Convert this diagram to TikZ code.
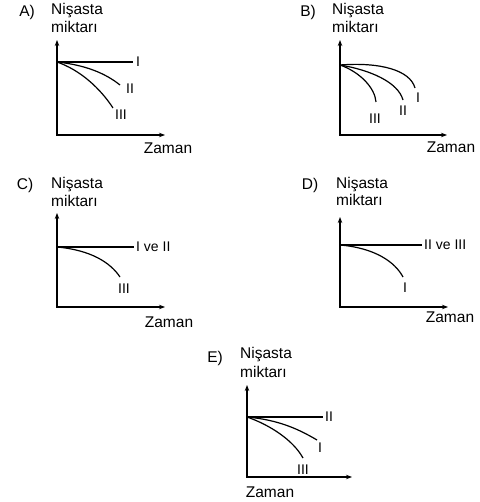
\documentclass[tikz,border=0pt]{standalone}
\usepackage{fontspec}
\setmainfont{Liberation Sans}
\usepackage{tikz}
\usetikzlibrary{arrows.meta}

\tikzset{
  axis/.style={line width=1.2pt,{Stealth[length=6pt,width=4.5pt]}-{Stealth[length=6pt,width=4.5pt]}},
  curve/.style={line width=1.2pt},
  txt/.style={inner sep=0pt,font=\fontsize{15.5}{17}\selectfont},
  lbl/.style={inner sep=0pt,font=\fontsize{14}{16}\selectfont}
}

\begin{document}
\begin{tikzpicture}[x=1pt,y=-1pt]
          \useasboundingbox (0,0) rectangle (479,502);

          % A
          \node[txt] (aopt) at (27,12) {A)};
          \node[txt,anchor=west] (ay1) at (51,11) {Nişasta};
          \node[txt,anchor=west] (ay2) at (51,27) {miktarı};
          \node[txt] (ax) at (168,148) {Zaman};
          \coordinate (aTop) at (57,40);
          \coordinate (aO) at (57,135);
          \coordinate (aRight) at (165,135);
          \coordinate (aS) at (57,62);
          \node[lbl] (aI) at (138,62) {I};
          \node[lbl] (aII) at (130,89) {II};
          \node[lbl] (aIII) at (121,115) {III};
          \draw[axis] (aTop) -- (aO) -- (aRight);
          \draw[curve] (aS) -- ([xshift=-3pt]aI.west);
          \draw[curve] (aS) .. controls (85,65) and (105,73) .. (120,85);
          \draw[curve] (aS) .. controls (80,70) and (100,88) .. (113,108);

          % B
          \node[txt] (bopt) at (308,12) {B)};
          \node[txt,anchor=west] (by1) at (332,11) {Nişasta};
          \node[txt,anchor=west] (by2) at (332,27) {miktarı};
          \node[txt] (bx) at (451,147) {Zaman};
          \coordinate (bTop) at (340,40);
          \coordinate (bO) at (340,135);
          \coordinate (bRight) at (447,135);
          \coordinate (bS) at (340,65);
          \node[lbl] (bI) at (418,98) {I};
          \node[lbl] (bII) at (403,111) {II};
          \node[lbl] (bIII) at (375,119) {III};
          \draw[axis] (bTop) -- (bO) -- (bRight);
          \draw[curve] (bS) .. controls (380,62) and (410,70) .. (415,88);
          \draw[curve] (bS) .. controls (370,70) and (398,82) .. (403,100);
          \draw[curve] (bS) .. controls (360,72) and (375,88) .. (376,102);

          % C
          \node[txt] (copt) at (25,185) {C)};
          \node[txt,anchor=west] (cy1) at (51,185) {Nişasta};
          \node[txt,anchor=west] (cy2) at (51,201) {miktarı};
          \node[txt] (cx) at (169,322) {Zaman};
          \coordinate (cTop) at (57,213);
          \coordinate (cO) at (57,307);
          \coordinate (cRight) at (165,307);
          \coordinate (cS) at (57,247);
          \node[lbl,anchor=west] (cI) at (136,247) {I ve II};
          \node[lbl] (cIII) at (124,289) {III};
          \draw[axis] (cTop) -- (cO) -- (cRight);
          \draw[curve] (cS) -- ([xshift=-2pt]cI.west);
          \draw[curve] (cS) .. controls (90,250) and (110,262) .. (120,277);

          % D
          \node[txt] (dopt) at (310,185) {D)};
          \node[txt,anchor=west] (dy1) at (336,185) {Nişasta};
          \node[txt,anchor=west] (dy2) at (336,200) {miktarı};
          \node[txt] (dx) at (450,317) {Zaman};
          \coordinate (dTop) at (340,217);
          \coordinate (dO) at (340,307);
          \coordinate (dRight) at (448,307);
          \coordinate (dS) at (340,245);
          \node[lbl,anchor=west] (dI) at (424,245) {II ve III};
          \node[lbl] (dIII) at (405,288) {I};
          \draw[axis] (dTop) -- (dO) -- (dRight);
          \draw[curve] (dS) -- ([xshift=-2pt]dI.west);
          \draw[curve] (dS) .. controls (375,248) and (395,262) .. (403,277);

          % E
          \node[txt] (eopt) at (215,358) {E)};
          \node[txt,anchor=west] (ey1) at (240,355) {Nişasta};
          \node[txt,anchor=west] (ey2) at (240,372) {miktarı};
          \node[txt] (ex) at (270,492) {Zaman};
          \coordinate (eTop) at (247,385);
          \coordinate (eO) at (247,477);
          \coordinate (eRight) at (352,477);
          \coordinate (eS) at (247,417);
          \node[lbl,anchor=west] (eII) at (325,417) {II};
          \node[lbl] (eI) at (320,448) {I};
          \node[lbl] (eIII) at (303,470) {III};
          \draw[axis] (eTop) -- (eO) -- (eRight);
          \draw[curve] (eS) -- ([xshift=-2pt]eII.west);
          \draw[curve] (eS) .. controls (280,420) and (300,430) .. (317,440);
          \draw[curve] (eS) .. controls (270,425) and (293,440) .. (303,458);
\end{tikzpicture}
\end{document}
